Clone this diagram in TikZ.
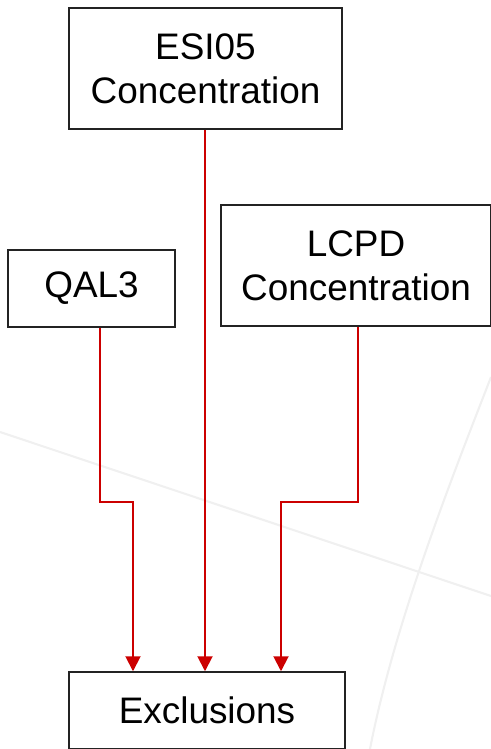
\documentclass[tikz,border=0pt]{standalone}
\usepackage{fontspec}
\setmainfont{Liberation Sans}
\usepackage{xcolor}
\usepackage{tikz}
\usetikzlibrary{positioning, calc, arrows.meta}
\definecolor{linkColor}{RGB}{204,0,0}
\definecolor{boxColor}{RGB}{35,35,35}
\definecolor{swooshColor}{RGB}{240,240,240}
\tikzset{
    srcbox/.style={
        rectangle,
        draw=boxColor,
        line width=0.85pt,
        fill=white,
        align=center,
        inner sep=0pt,
        font=\fontsize{21}{25}\selectfont
    },
    link/.style={
        -{Triangle[length=0.3cm, width=0.3cm]},
        color=linkColor,
        line width=1.1pt
    },
    swoosh/.style={
        draw=swooshColor,
        line width=1.2pt
    }
}

\begin{document}
\begin{tikzpicture}
    \useasboundingbox (0,0) rectangle (9.82,-14.98);
    % faint background curves
    \draw[swoosh] (0,-8.64) -- (9.82,-11.92);
    \draw[swoosh] (9.82,-7.54) .. controls (9.1,-9.4) and (7.9,-12.4) .. (7.4,-14.98);

    \node[srcbox, minimum width=5.46cm, minimum height=2.42cm] (ESI) at (4.11,-1.37) {ESI05\\Concentration};
    \node[srcbox, minimum width=3.34cm, minimum height=1.54cm] (QAL) at (1.83,-5.77) {QAL3};
    \node[srcbox, minimum width=5.40cm, minimum height=2.42cm] (LCPD) at (7.12,-5.31) {LCPD\\Concentration};
    \node[srcbox, minimum width=5.52cm, minimum height=1.54cm] (EXCL) at (4.14,-14.21) {Exclusions};

    % elbows
    \coordinate (qalbend) at (2.00,-10.04);
    \coordinate (qalin) at (2.66,-10.04);
    \coordinate (esimid) at (4.10,-10.04);
    \coordinate (lcpdbend) at (7.16,-10.04);
    \coordinate (lcpdin) at (5.62,-10.04);

    \draw[link] (QAL.south -| qalbend) -- (qalbend) -- (qalin) -- (EXCL.north -| qalin);
    \draw[link] (ESI.south -| esimid) -- (esimid) -- (EXCL.north -| esimid);
    \draw[link] (LCPD.south -| lcpdbend) -- (lcpdbend) -- (lcpdin) -- (EXCL.north -| lcpdin);
\end{tikzpicture}
\end{document}
